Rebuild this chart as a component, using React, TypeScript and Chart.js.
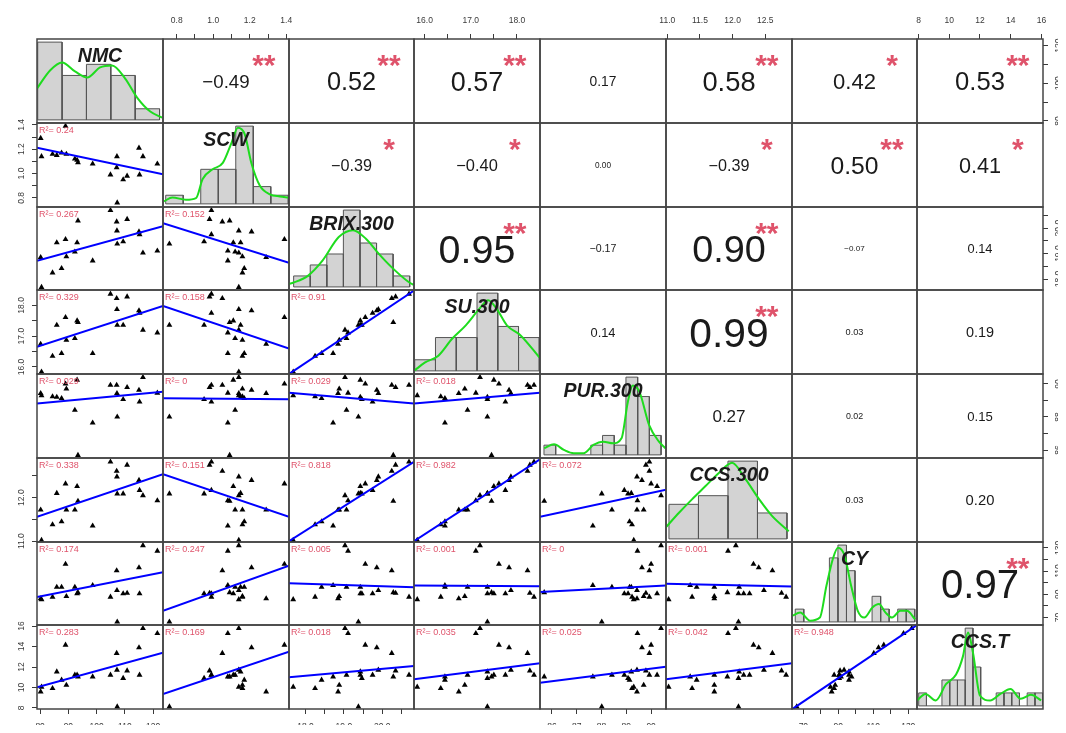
import React, { useEffect, useRef } from 'react';
import { Chart, registerables } from 'chart.js';

Chart.register(...registerables);

const FONT = '"Liberation Sans", Arial, Helvetica, sans-serif';
Chart.defaults.font.family = FONT;

// ---------------- data ----------------
const VARIABLES = ['NMC', 'SCW', 'BRIX.300', 'SU.300', 'PUR.300', 'CCS.300', 'CY', 'CCS.T'];

const NMC = [80.2, 80.5, 84.4, 85.9, 87.6, 89.0, 89.3, 92.3, 93.1, 93.4, 98.6, 104.9, 107.1, 107.2, 107.3, 109.4, 110.8, 115.0, 115.2, 116.4, 121.5];
const SCW = [1.29, 1.14, 1.16, 1.15, 1.17, 1.39, 1.16, 1.12, 1.11, 1.09, 1.08, 0.99, 1.05, 1.14, 0.76, 0.95, 0.98, 1.21, 0.99, 1.14, 1.08];
const BRIX = [18.85, 17.68, 18.25, 19.43, 18.42, 19.56, 18.88, 19.07, 19.43, 20.29, 18.72, 20.7, 20.25, 19.9, 19.38, 19.47, 20.35, 19.86, 19.75, 19.03, 19.11];
const SU = [16.74, 15.84, 16.35, 17.36, 16.44, 17.61, 16.87, 16.93, 17.5, 17.45, 16.44, 18.37, 18.23, 17.87, 17.36, 17.36, 18.28, 17.83, 17.75, 17.2, 17.11];
const PUR = [89.43, 89.3, 89.23, 89.2, 89.13, 90.0, 89.7, 88.42, 90.24, 85.69, 87.65, 89.93, 89.93, 89.43, 88.01, 89.07, 89.79, 89.63, 88.92, 90.4, 89.45];
const CCS = [11.72, 11.02, 11.38, 12.1, 11.45, 12.32, 11.72, 11.72, 12.26, 11.92, 11.35, 12.82, 12.61, 12.48, 12.09, 12.09, 12.75, 12.4, 12.17, 12.05, 11.93];
const CY = [86.2, 85.5, 87.6, 96.1, 96.1, 116, 88.2, 96.1, 90.5, 91.5, 97.6, 87.6, 110.3, 93.3, 66.2, 90.5, 91.0, 113, 90.5, 132, 127.3];
const CCST = [9.59, 10.05, 9.92, 11.54, 10.73, 14.15, 10.24, 11.22, 11.22, 11.05, 11.05, 11.22, 13.34, 11.71, 8.12, 10.9, 11.64, 13.9, 11.22, 15.78, 15.29];
const SERIES = [NMC, SCW, BRIX, SU, PUR, CCS, CY, CCST];

// axis limits of each variable
const AXIS_MIN = [78.9, 0.725, 17.57, 15.77, 85.52, 10.98, 63.5, 7.9];
const AXIS_MAX = [123.5, 1.415, 20.83, 18.5, 90.6, 12.91, 135, 16.1];

// ticks and tick labels
const NMC_TICKS = [80, 90, 100, 110, 120];
const SCW_TICKS = [0.8, 0.9, 1.0, 1.1, 1.2, 1.3, 1.4];
const BRIX_TICKS = [18.0, 18.5, 19.0, 19.5, 20.0, 20.5];
const SU_TICKS = [16.0, 16.5, 17.0, 17.5, 18.0];
const PUR_TICKS = [86, 87, 88, 89, 90];
const CCS_TICKS = [11.0, 11.5, 12.0, 12.5];
const CY_TICKS = [70, 80, 90, 100, 110, 120, 130];
const CCST_TICKS = [8, 10, 12, 14, 16];
const AXIS_TICKS = [NMC_TICKS, SCW_TICKS, BRIX_TICKS, SU_TICKS, PUR_TICKS, CCS_TICKS, CY_TICKS, CCST_TICKS];

const NMC_H_LABELS = ['80', '90', '100', '110', '120'];
const SCW_H_LABELS = ['0.8', '', '1.0', '', '1.2', '', '1.4'];
const BRIX_H_LABELS = ['18.0', '', '19.0', '', '20.0', ''];
const SU_H_LABELS = ['16.0', '', '17.0', '', '18.0'];
const PUR_H_LABELS = ['86', '87', '88', '89', '90'];
const CCS_H_LABELS = ['11.0', '11.5', '12.0', '12.5'];
const CY_H_LABELS = ['70', '', '90', '', '110', '', '130'];
const CCST_H_LABELS = ['8', '10', '12', '14', '16'];
const H_LABELS = [NMC_H_LABELS, SCW_H_LABELS, BRIX_H_LABELS, SU_H_LABELS, PUR_H_LABELS, CCS_H_LABELS, CY_H_LABELS, CCST_H_LABELS];

const NMC_V_LABELS = ['80', '', '100', '', '120'];
const SCW_V_LABELS = ['0.8', '', '1.0', '', '1.2', '', '1.4'];
const BRIX_V_LABELS = ['18.0', '', '19.0', '', '20.0', ''];
const SU_V_LABELS = ['16.0', '', '17.0', '', '18.0'];
const PUR_V_LABELS = ['86', '', '88', '', '90'];
const CCS_V_LABELS = ['11.0', '', '12.0', ''];
const CY_V_LABELS = ['70', '', '90', '', '110', '', '130'];
const CCST_V_LABELS = ['8', '10', '12', '14', '16'];
const V_LABELS = [NMC_V_LABELS, SCW_V_LABELS, BRIX_V_LABELS, SU_V_LABELS, PUR_V_LABELS, CCS_V_LABELS, CY_V_LABELS, CCST_V_LABELS];

// histograms
const NMC_BREAKS = [80, 90, 100, 110, 120, 130];
const NMC_COUNTS = [7, 4, 5, 4, 1];
const SCW_BREAKS = [0.7, 0.8, 0.9, 1.0, 1.1, 1.2, 1.3, 1.4];
const SCW_COUNTS = [1, 0, 4, 4, 9, 2, 1];
const BRIX_BREAKS = [17.5, 18, 18.5, 19, 19.5, 20, 20.5, 21];
const BRIX_COUNTS = [1, 2, 3, 7, 4, 3, 1];
const SU_BREAKS = [15.5, 16, 16.5, 17, 17.5, 18, 18.5];
const SU_COUNTS = [1, 3, 3, 7, 4, 3];
const PUR_BREAKS = [85.5, 86, 86.5, 87, 87.5, 88, 88.5, 89, 89.5, 90, 90.5];
const PUR_COUNTS = [1, 0, 0, 0, 1, 2, 1, 8, 6, 2];
const CCS_BREAKS = [11, 11.5, 12, 12.5, 13];
const CCS_COUNTS = [4, 5, 9, 3];
const CY_BREAKS = [65, 70, 75, 80, 85, 90, 95, 100, 105, 110, 115, 120, 125, 130, 135];
const CY_COUNTS = [1, 0, 0, 0, 5, 6, 4, 0, 0, 2, 1, 0, 1, 1];
const CCST_BREAKS = [8, 8.5, 9, 9.5, 10, 10.5, 11, 11.5, 12, 12.5, 13, 13.5, 14, 14.5, 15, 15.5, 16];
const CCST_COUNTS = [1, 0, 0, 2, 2, 2, 6, 3, 0, 0, 1, 1, 1, 0, 1, 1];
const HIST_BREAKS = [NMC_BREAKS, SCW_BREAKS, BRIX_BREAKS, SU_BREAKS, PUR_BREAKS, CCS_BREAKS, CY_BREAKS, CCST_BREAKS];
const HIST_COUNTS = [NMC_COUNTS, SCW_COUNTS, BRIX_COUNTS, SU_COUNTS, PUR_COUNTS, CCS_COUNTS, CY_COUNTS, CCST_COUNTS];
const HIST_MIN = [79.71, 0.6845, 17.36, 15.483, 85.33, 10.95, 63.1, 7.89];
const HIST_MAX = [131.42, 1.404, 21.13, 18.517, 90.71, 13.085, 136.3, 16.02];

// density curves (in histogram count units)
const NMC_DENS_X = [79.7, 85.05, 90.0, 95.3, 100.3, 105.6, 110.5, 115.9, 120.8, 126.2, 131.1];
const NMC_DENS_Y = [2.82, 4.45, 5.17, 4.36, 3.81, 4.72, 4.9, 3.72, 2.01, 0.75, 0.21];
const SCW_DENS_X = [0.69, 0.738, 0.815, 0.873, 0.911, 0.968, 1.026, 1.074, 1.112, 1.151, 1.189, 1.237, 1.295, 1.352, 1.4];
const SCW_DENS_Y = [0.3, 0.74, 0.48, 0.67, 2.89, 4.0, 4.74, 6.97, 8.81, 8.07, 4.74, 2.14, 1.11, 0.86, 0.74];
const BRIX_DENS_X = [17.36, 17.5, 17.93, 18.37, 18.86, 19.29, 19.68, 20.07, 20.46, 20.99, 21.12];
const BRIX_DENS_Y = [0.28, 0.4, 1.01, 2.39, 4.54, 5.16, 4.39, 3.01, 1.78, 0.4, 0.2];
const SU_DENS_X = [15.5, 15.75, 16.07, 16.4, 16.73, 17.06, 17.27, 17.47, 17.72, 18.05, 18.5];
const SU_DENS_Y = [0.05, 0.76, 1.37, 2.89, 4.1, 5.6, 6.36, 5.6, 4.1, 3.19, 1.22];
const PUR_DENS_X = [85.51, 85.93, 86.35, 86.77, 87.19, 87.61, 88.03, 88.45, 88.81, 89.08, 89.29, 89.58, 89.99, 90.41, 90.69];
const PUR_DENS_Y = [0.68, 1.09, 0.51, 0.17, 0.17, 1.02, 1.36, 1.19, 1.7, 5.44, 7.14, 6.46, 3.06, 1.36, 0.68];
const CCS_DENS_X = [10.94, 11.17, 11.39, 11.62, 11.85, 12.07, 12.3, 12.53, 12.75, 13.03];
const CCS_DENS_Y = [1.28, 3.02, 4.57, 6.11, 7.66, 8.82, 6.88, 4.57, 2.63, 0.88];
const CY_DENS_X = [63.1, 67.9, 73.7, 79.4, 83.3, 87.1, 90.0, 93.8, 97.7, 101.6, 105.4, 110.2, 114.0, 117.9, 121.7, 126.5, 130.4, 135.2];
const CY_DENS_Y = [0.47, 0.73, 0.1, 0.34, 2.84, 4.95, 5.79, 5.21, 2.84, 0.87, 0.34, 1.13, 1.4, 0.73, 0.34, 0.87, 0.87, 0.21];
const CCST_DENS_X = [7.89, 8.44, 9.1, 9.76, 10.41, 10.85, 11.18, 11.51, 11.95, 12.61, 13.27, 13.92, 14.58, 15.24, 15.9];
const CCST_DENS_Y = [0.42, 0.92, 0.42, 1.67, 2.42, 3.8, 5.67, 4.05, 0.8, 0.42, 0.92, 1.3, 0.55, 0.85, 0.42];
const DENS_X = [NMC_DENS_X, SCW_DENS_X, BRIX_DENS_X, SU_DENS_X, PUR_DENS_X, CCS_DENS_X, CY_DENS_X, CCST_DENS_X];
const DENS_Y = [NMC_DENS_Y, SCW_DENS_Y, BRIX_DENS_Y, SU_DENS_Y, PUR_DENS_Y, CCS_DENS_Y, CY_DENS_Y, CCST_DENS_Y];

// upper triangle: correlation coefficients and significance stars (row r, columns r+1..7)
const CORR = [
  [-0.49, 0.52, 0.57, 0.17, 0.58, 0.42, 0.53],
  [-0.39, -0.40, 0.00, -0.39, 0.50, 0.41],
  [0.95, -0.17, 0.90, -0.07, 0.14],
  [0.14, 0.99, 0.03, 0.19],
  [0.27, 0.02, 0.15],
  [0.03, 0.20],
  [0.97],
];
const STARS = [
  ['**', '**', '**', '', '**', '*', '**'],
  ['*', '*', '', '*', '**', '*'],
  ['**', '', '**', '', ''],
  ['', '**', '', ''],
  ['', '', ''],
  ['', ''],
  ['**'],
];

// lower triangle: R² labels and fitted line ends (row r = 1..7, columns 0..r-1)
const R2_LABELS = [
  ['0.24'],
  ['0.267', '0.152'],
  ['0.329', '0.158', '0.91'],
  ['0.029', '0', '0.029', '0.018'],
  ['0.338', '0.151', '0.818', '0.982', '0.072'],
  ['0.174', '0.247', '0.005', '0.001', '0', '0.001'],
  ['0.283', '0.169', '0.018', '0.035', '0.025', '0.042', '0.948'],
];
const FIT_START = [
  [1.212],
  [18.72, 20.19],
  [16.65, 17.98, 15.77],
  [88.82, 89.13, 89.47, 88.82],
  [11.56, 12.54, 11.0, 11.0, 11.56],
  [87.6, 75.7, 99.5, 97.6, 91.9, 99.0],
  [10.02, 9.36, 11.0, 10.8, 10.47, 10.8, 7.87],
];
const FIT_END = [
  [0.993],
  [20.08, 18.64],
  [17.98, 16.6, 18.48],
  [89.53, 89.07, 88.82, 89.47],
  [12.54, 11.56, 12.82, 12.88, 12.18],
  [108.9, 114.6, 96.1, 96.8, 97.6, 96.7],
  [13.4, 13.49, 12.1, 12.36, 12.03, 12.36, 16.1],
];

// ---------------- layout ----------------
const M = 40;
const ORIGIN_X = 37;
const ORIGIN_Y = 39;
const CELL_W = 125.75;
const CELL_H = 83.75;
const edgeX = (c: number) => Math.round(ORIGIN_X + c * CELL_W);
const edgeY = (r: number) => Math.round(ORIGIN_Y + r * CELL_H);

const TICK_FONT_SIZE = 8.5;
const TICK_LEN = 5;
const STAR_COLOR = '#DF536B';

let measureCtx: CanvasRenderingContext2D | null = null;
function textWidth(text: string, font: string): number {
  if (!measureCtx) measureCtx = document.createElement('canvas').getContext('2d');
  measureCtx!.font = font;
  return measureCtx!.measureText(text).width;
}

function makeScale(v: number, vertical: boolean, position: string | null) {
  const labels = vertical ? V_LABELS[v] : H_LABELS[v];
  const ticks = AXIS_TICKS[v];
  const visible = position !== null;
  let padding = position === 'bottom' ? 7.5 : 8.5;
  if (vertical) {
    const widest = Math.max(...labels.map((l) => textWidth(l, `${TICK_FONT_SIZE}px ${FONT}`)));
    padding = Math.max(1, 15.5 - TICK_LEN - widest / 2);
  }
  return {
    type: 'linear',
    display: visible,
    position: position ?? (vertical ? 'left' : 'bottom'),
    min: AXIS_MIN[v],
    max: AXIS_MAX[v],
    afterBuildTicks: (scale: any) => {
      scale.ticks = ticks.map((value) => ({ value }));
    },
    afterFit: (scale: any) => {
      if (visible) {
        if (vertical) scale.width = M;
        else scale.height = M;
      }
      scale.paddingLeft = 0;
      scale.paddingRight = 0;
      scale.paddingTop = 0;
      scale.paddingBottom = 0;
    },
    grid: { display: true, drawOnChartArea: false, drawTicks: true, tickLength: TICK_LEN, color: '#3a3a3a', lineWidth: 1 },
    border: { display: false },
    ticks: {
      autoSkip: false,
      color: '#3a3a3a',
      font: { family: FONT, size: TICK_FONT_SIZE },
      padding,
      minRotation: vertical ? 90 : 0,
      maxRotation: vertical ? 90 : 0,
      crossAlign: vertical ? 'center' : 'near',
      callback: (_v: any, i: number) => labels[i] ?? '',
    },
  };
}

function fmtR(v: number): string {
  return (v < 0 ? '\u2212' : '') + Math.abs(v).toFixed(2);
}

function makeDecorPlugin(r: number, c: number) {
  return {
    id: 'cellDecor',
    afterDraw(chart: any) {
      const ctx: CanvasRenderingContext2D = chart.ctx;
      const a = chart.chartArea;
      const w = a.right - a.left;
      const h = a.bottom - a.top;
      ctx.save();
      if (r < c) {
        const val = CORR[r][c - r - 1];
        const txt = fmtR(val);
        const target = 16 + 64 * Math.abs(val);
        ctx.font = `100px ${FONT}`;
        const w100 = ctx.measureText(txt).width;
        const size = (target / w100) * 100;
        ctx.font = `${size}px ${FONT}`;
        ctx.fillStyle = '#1a1a1a';
        ctx.textAlign = 'center';
        ctx.textBaseline = 'alphabetic';
        ctx.fillText(txt, a.left + w / 2, a.top + h / 2 + 0.358 * size);
        const stars = STARS[r][c - r - 1];
        if (stars) {
          const s = 30;
          ctx.font = `bold ${s}px ${FONT}`;
          ctx.fillStyle = STAR_COLOR;
          ctx.fillText(stars, a.left + 0.8 * w, a.top + 0.22 * h + 0.58 * s);
        }
      } else if (r > c) {
        ctx.font = `9px ${FONT}`;
        ctx.fillStyle = STAR_COLOR;
        ctx.textAlign = 'left';
        ctx.textBaseline = 'alphabetic';
        ctx.fillText(`R\u00B2= ${R2_LABELS[r - 1][c]}`, a.left + 2, a.top + 9.5);
      } else {
        ctx.font = `italic bold 19.5px ${FONT}`;
        ctx.fillStyle = '#1a1a1a';
        ctx.textAlign = 'center';
        ctx.textBaseline = 'alphabetic';
        ctx.fillText(VARIABLES[r], a.left + w / 2, a.top + 22.5);
      }
      ctx.strokeStyle = '#444';
      ctx.lineWidth = 1.5;
      ctx.strokeRect(a.left, a.top, w, h);
      ctx.restore();
    },
  };
}

function makeConfig(r: number, c: number): any {
  const base = {
    animation: false,
    responsive: false,
    maintainAspectRatio: false,
    devicePixelRatio: 1,
    events: [],
    plugins: { legend: { display: false }, tooltip: { enabled: false }, title: { display: false } },
  };
  if (r === c) {
    const breaks = HIST_BREAKS[r];
    const counts = HIST_COUNTS[r];
    const maxC = Math.max(...counts);
    const datasets: any[] = [];
    counts.forEach((n, i) => {
      if (n <= 0) return;
      datasets.push({
        data: [
          { x: breaks[i], y: 0 },
          { x: breaks[i], y: n },
          { x: breaks[i + 1], y: n },
          { x: breaks[i + 1], y: 0 },
        ],
        borderColor: '#555',
        borderWidth: 1,
        backgroundColor: '#D3D3D3',
        fill: 'origin',
        pointRadius: 0,
        tension: 0,
        order: 2,
      });
    });
    datasets.push({
      data: [
        { x: breaks[0], y: 0 },
        { x: breaks[breaks.length - 1], y: 0 },
      ],
      borderColor: '#555',
      borderWidth: 1,
      pointRadius: 0,
      fill: false,
      order: 1,
    });
    datasets.push({
      data: DENS_X[r].map((x, i) => ({ x, y: DENS_Y[r][i] })),
      borderColor: '#1EDC1E',
      borderWidth: 2,
      pointRadius: 0,
      fill: false,
      cubicInterpolationMode: 'monotone',
      order: 0,
    });
    return {
      type: 'line',
      data: { datasets },
      options: {
        ...base,
        layout: { padding: M },
        scales: {
          x: { type: 'linear', display: false, min: HIST_MIN[r], max: HIST_MAX[r] },
          y: { type: 'linear', display: false, min: -0.04 * maxC, max: 1.04 * maxC },
        },
      },
      plugins: [makeDecorPlugin(r, c)],
    };
  }

  const topAxis = r === 0 && c % 2 === 1;
  const bottomAxis = r === 7 && c % 2 === 0;
  const leftAxis = c === 0 && r % 2 === 1;
  const rightAxis = c === 7 && r % 2 === 0;

  const datasets: any[] = [];
  if (r > c) {
    datasets.push({
      data: SERIES[c].map((x, i) => ({ x, y: SERIES[r][i] })),
      pointStyle: 'triangle',
      pointRadius: 3.4,
      backgroundColor: '#000',
      borderColor: '#000',
      borderWidth: 0,
      showLine: false,
      order: 1,
    });
    datasets.push({
      data: [
        { x: AXIS_MIN[c], y: FIT_START[r - 1][c] },
        { x: AXIS_MAX[c], y: FIT_END[r - 1][c] },
      ],
      showLine: true,
      borderColor: '#0000FF',
      borderWidth: 2,
      pointRadius: 0,
      fill: false,
      order: 0,
    });
  }

  return {
    type: 'scatter',
    data: { datasets },
    options: {
      ...base,
      layout: {
        padding: {
          top: topAxis ? 0 : M,
          bottom: bottomAxis ? 0 : M,
          left: leftAxis ? 0 : M,
          right: rightAxis ? 0 : M,
        },
      },
      scales: {
        x: makeScale(c, false, topAxis ? 'top' : bottomAxis ? 'bottom' : null),
        y: makeScale(r, true, leftAxis ? 'left' : rightAxis ? 'right' : null),
      },
    },
    plugins: [makeDecorPlugin(r, c)],
  };
}

export default function App() {
  const refs = useRef<(HTMLCanvasElement | null)[]>([]);

  useEffect(() => {
    const charts: Chart[] = [];
    for (let r = 0; r < 8; r++) {
      for (let c = 0; c < 8; c++) {
        const cv = refs.current[r * 8 + c];
        if (!cv) continue;
        charts.push(new Chart(cv, makeConfig(r, c)));
      }
    }
    return () => charts.forEach((ch) => ch.destroy());
  }, []);

  const cells: React.ReactNode[] = [];
  for (let r = 0; r < 8; r++) {
    for (let c = 0; c < 8; c++) {
      const x0 = edgeX(c);
      const x1 = edgeX(c + 1);
      const y0 = edgeY(r);
      const y1 = edgeY(r + 1);
      const w = x1 - x0 + 2 * M;
      const h = y1 - y0 + 2 * M;
      cells.push(
        <canvas
          key={`${r}-${c}`}
          ref={(el) => {
            refs.current[r * 8 + c] = el;
          }}
          width={w}
          height={h}
          style={{ position: 'absolute', left: x0 - M, top: y0 - M, width: w, height: h }}
        />
      );
    }
  }

  return (
    <div style={{ position: 'relative', margin: -8, width: 1066, height: 733, overflow: 'hidden', background: '#fff' }}>
      {cells}
    </div>
  );
}
